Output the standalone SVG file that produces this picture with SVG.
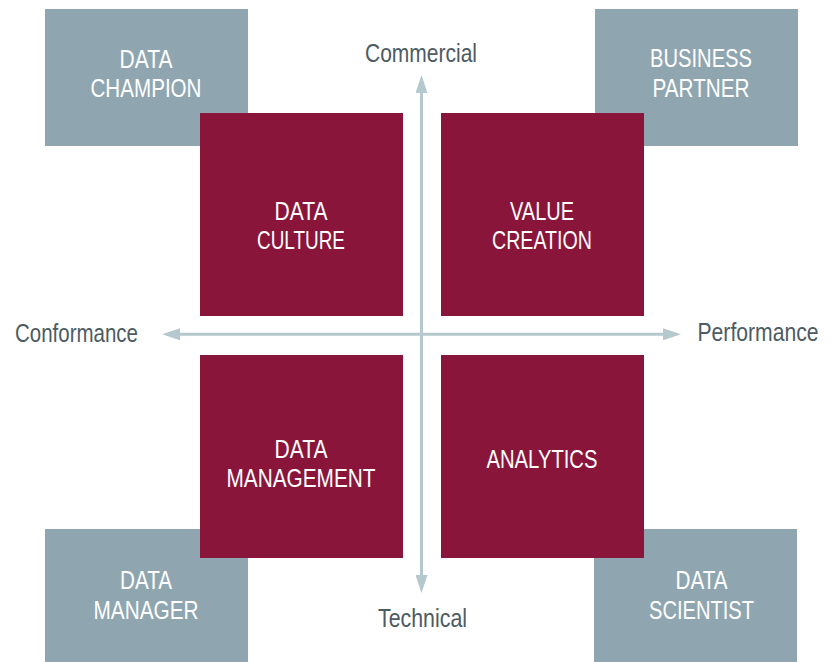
<svg xmlns="http://www.w3.org/2000/svg" width="838" height="662" viewBox="0 0 838 662">
<defs>
<style>
.role{fill:#8fa6b1}
.area{fill:#8a153a}
.t{font-family:"Liberation Sans",Arial,sans-serif;font-size:25px;fill:#ffffff;text-anchor:middle}
.ax{font-family:"Liberation Sans",Arial,sans-serif;font-size:25px;fill:#4d5b62}
.axis{stroke:#b5c8ce;stroke-width:3;fill:none}
</style>
<marker id="ah" markerUnits="userSpaceOnUse" markerWidth="18" markerHeight="12" refX="10" refY="6" orient="auto-start-reverse" viewBox="0 0 18 12">
<path d="M0,0 L18,6 L0,12 Z" fill="#b5c8ce"/>
</marker>
</defs>
<rect width="838" height="662" fill="#ffffff"/>
<g id="data-champion">
<rect class="role" x="45" y="9" width="203" height="137"/>
<text class="t" x="146" y="67.7" textLength="53" lengthAdjust="spacingAndGlyphs">DATA</text>
<text class="t" x="146" y="96.7" textLength="111" lengthAdjust="spacingAndGlyphs">CHAMPION</text>
</g>
<g id="business-partner">
<rect class="role" x="595" y="9" width="203" height="137"/>
<text class="t" x="701" y="66.7" textLength="102" lengthAdjust="spacingAndGlyphs">BUSINESS</text>
<text class="t" x="701" y="96.7" textLength="97" lengthAdjust="spacingAndGlyphs">PARTNER</text>
</g>
<g id="data-manager">
<rect class="role" x="45" y="529" width="203" height="133"/>
<text class="t" x="146" y="589" textLength="52" lengthAdjust="spacingAndGlyphs">DATA</text>
<text class="t" x="146" y="618.5" textLength="105" lengthAdjust="spacingAndGlyphs">MANAGER</text>
</g>
<g id="data-scientist">
<rect class="role" x="594" y="529" width="203" height="133"/>
<text class="t" x="701.5" y="589" textLength="52" lengthAdjust="spacingAndGlyphs">DATA</text>
<text class="t" x="701.5" y="619" textLength="105" lengthAdjust="spacingAndGlyphs">SCIENTIST</text>
</g>
<g id="data-culture">
<rect class="area" x="200" y="113" width="203" height="203"/>
<text class="t" x="301" y="220" textLength="53" lengthAdjust="spacingAndGlyphs">DATA</text>
<text class="t" x="301" y="249" textLength="88" lengthAdjust="spacingAndGlyphs">CULTURE</text>
</g>
<g id="value-creation">
<rect class="area" x="441" y="113" width="203" height="203"/>
<text class="t" x="542" y="220" textLength="64" lengthAdjust="spacingAndGlyphs">VALUE</text>
<text class="t" x="542" y="249" textLength="100" lengthAdjust="spacingAndGlyphs">CREATION</text>
</g>
<g id="data-management">
<rect class="area" x="200" y="355" width="203" height="203"/>
<text class="t" x="301" y="458.3" textLength="53" lengthAdjust="spacingAndGlyphs">DATA</text>
<text class="t" x="301" y="486.5" textLength="149" lengthAdjust="spacingAndGlyphs">MANAGEMENT</text>
</g>
<g id="analytics">
<rect class="area" x="441" y="355" width="203" height="203"/>
<text class="t" x="542" y="468" textLength="111" lengthAdjust="spacingAndGlyphs">ANALYTICS</text>
</g>
<g id="connectors">
<line class="axis" x1="170" y1="334.3" x2="673" y2="334.3" marker-start="url(#ah)" marker-end="url(#ah)"/>
<line class="axis" x1="421.5" y1="83" x2="421.5" y2="585" marker-start="url(#ah)" marker-end="url(#ah)"/>
</g>
<g id="axis-labels">
<text class="ax" x="365" y="61.7" textLength="112" lengthAdjust="spacingAndGlyphs">Commercial</text>
<text class="ax" x="15" y="341.7" textLength="123" lengthAdjust="spacingAndGlyphs">Conformance</text>
<text class="ax" transform="translate(697.5,341) scale(0.846,1)" x="0" y="0">Performance</text>
<text class="ax" x="378" y="627" textLength="89" lengthAdjust="spacingAndGlyphs">Technical</text>
</g>
</svg>
